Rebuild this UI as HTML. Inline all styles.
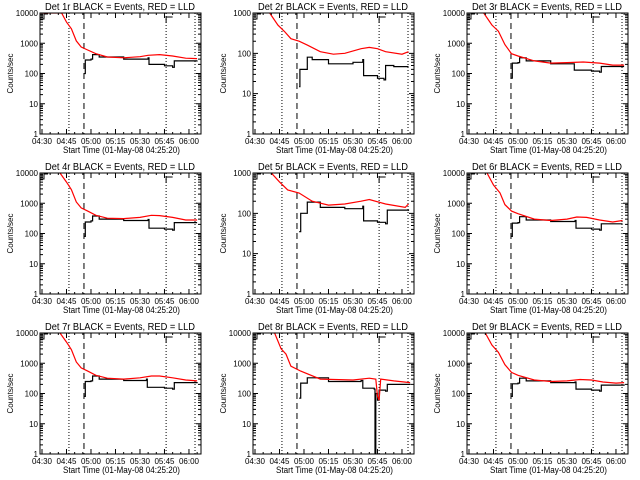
<!DOCTYPE html>
<html><head><meta charset="utf-8"><style>
html,body{margin:0;padding:0;background:#fff;width:640px;height:480px;overflow:hidden}
svg{display:block;font-family:"Liberation Sans",sans-serif}
</style></head><body>
<svg id="chart" width="640" height="480" viewBox="0 0 640 480"></svg>
<script>
// minutes after 04:30 ; values in counts/sec
const panelTitles = ["Det 1r","Det 2r","Det 3r","Det 4r","Det 5r","Det 6r","Det 7r","Det 8r","Det 9r"];
const panelDecades = [4,3,4,4,3,4,4,4,4];
const xTickLabels = ["04:30","04:45","05:00","05:15","05:30","05:45","06:00"];
const xTickMinutes = [0,15,30,45,60,75,90];
const markerMinutes = [16.5,25.7,76,93.7];
const red1 = [[-4,10000],[12,10000],[15,5000],[18,3000],[21,1200],[24,750],[28,600],[33,450],[40,350],[50,330],[60,360],[65,400],[72,420],[80,380],[88,320],[95,310]];
const blk1 = [[26,100],[26.5,280],[30,300],[31,420],[35,350],[50,300],[65,330],[65.5,200],[75,180],[80,160],[81,260],[95,270]];
const red2 = [[9,1000],[14,500],[18,350],[22,230],[27,200],[32,160],[40,110],[48,95],[55,100],[65,130],[70,140],[75,130],[80,110],[90,95],[94,110]];
const blk2 = [[27,15],[27.5,40],[31,40],[32,80],[35,70],[45,55],[60,60],[66,70],[66.5,28],[75,24],[79,22],[80,50],[85,47],[94,47]];
const red3 = [[9,10000],[14,4000],[18,2500],[22,900],[26,450],[30,380],[40,260],[50,220],[60,230],[70,240],[80,220],[88,190],[95,190]];
const blk3 = [[26,70],[26.5,220],[30,230],[31,330],[35,260],[50,210],[64,210],[64.5,130],[75,120],[80,110],[81,170],[95,170]];
const red4 = [[11,10000],[15,5000],[18,2800],[21,1100],[24,700],[28,550],[33,400],[40,320],[50,310],[60,340],[67,400],[72,390],[80,340],[88,280],[95,280]];
const blk4 = [[26,80],[26.5,240],[30,260],[31,380],[35,300],[50,270],[65,290],[65.5,150],[75,140],[80,130],[81,230],[95,230]];
const red5 = [[10,1000],[15,600],[20,380],[27,320],[35,200],[45,160],[55,170],[65,200],[70,220],[80,170],[92,140],[94,170]];
const blk5 = [[27,35],[28,100],[31,100],[32,190],[40,140],[55,130],[66,150],[66.5,65],[75,60],[80,55],[81,120],[94,115]];
const red6 = [[11,10000],[15,4000],[19,2200],[22,900],[26,550],[30,450],[40,300],[50,270],[60,300],[66,350],[72,340],[80,280],[88,240],[94,270]];
const blk6 = [[26,80],[26.5,220],[30,230],[31,360],[35,280],[50,250],[65,270],[65.5,150],[75,140],[80,130],[81,210],[94,210]];
const red7 = [[11,10000],[15,5000],[18,2800],[21,1100],[24,700],[28,550],[33,400],[40,320],[50,300],[60,330],[67,380],[72,380],[80,330],[88,280],[95,260]];
const blk7 = [[26,80],[26.5,250],[30,260],[31,380],[35,300],[50,270],[64,300],[64.5,160],[75,150],[80,140],[81,230],[95,240]];
const red8 = [[12,10000],[16,3000],[19,2000],[22,800],[28,550],[40,300],[60,280],[70,320],[74,300],[75,80],[76,60],[77,300],[85,260],[95,230]];
const blk8 = [[27,70],[28,220],[31,220],[32,330],[45,250],[65,270],[66,150],[73,140],[73.5,1],[74,100],[75,60],[76,130],[80,120],[81,200],[95,210]];
const red9 = [[10,10000],[14,4000],[18,2300],[22,900],[26,500],[30,400],[40,280],[50,250],[60,260],[68,290],[75,280],[82,240],[90,220],[95,230]];
const blk9 = [[26,80],[26.5,210],[30,220],[31,320],[35,260],[50,230],[65,240],[65.5,140],[75,130],[80,120],[81,190],[95,200]];
const redSeries = [red1,red2,red3,red4,red5,red6,red7,red8,red9];
const blackSeries = [blk1,blk2,blk3,blk4,blk5,blk6,blk7,blk8,blk9];

const NS="http://www.w3.org/2000/svg";
const svg=document.getElementById('chart');
function mk(tag,attrs,parent){const e=document.createElementNS(NS,tag);for(const k in attrs)e.setAttribute(k,attrs[k]);(parent||svg).appendChild(e);return e;}
const PL=40,PR=201,PT=13,PB=134;
for(let i=0;i<9;i++){
  const ox=[0,213,427][i%3], oy=[0,160,320][Math.floor(i/3)];
  const g=mk('g',{transform:`translate(${ox},${oy})`});
  
  
  const dec=panelDecades[i];
  const X=t=>PL+2+t*1.633;
  const Y=v=>PB-(Math.log10(Math.max(v,1))/dec)*(PB-PT);
  const cid='clip'+i;
  const cp=mk('clipPath',{id:cid},g);mk('rect',{x:PL,y:PT,width:PR-PL,height:PB-PT},cp);
  markerMinutes.forEach((m,j)=>{
    const l=mk('line',{x1:X(m),x2:X(m),y1:PT,y2:PB,stroke:'#000','stroke-width':1,'stroke-dasharray':j==1?'6,4':'1,2'},g);
    
    
  });
  const be=mk('path',{d:`M${PL} ${PT+6}H${PL+4}V${PT+1}H${PL+8}M${X(76)} ${PT+10}V${PT+4}H${X(80)}`,fill:'none',stroke:'#000','stroke-width':1},g);
  
  
  const lin=arr=>arr.map((p,k)=>(k?'L':'M')+X(p[0]).toFixed(1)+' '+Y(p[1]).toFixed(1)).join('');
  const step=arr=>arr.map((p,k)=>k?`H${X(p[0]).toFixed(1)}V${Y(p[1]).toFixed(1)}`:`M${X(p[0]).toFixed(1)} ${Y(p[1]).toFixed(1)}`).join('');
  const bl=mk('path',{d:step(blackSeries[i]),fill:'none',stroke:'#000','stroke-width':1.2,'clip-path':`url(#${cid})`},g);
  
  
  const rd=mk('path',{d:lin(redSeries[i]),fill:'none',stroke:'#f00','stroke-width':1.2,'clip-path':`url(#${cid})`},g);
  
  
  const fr=mk('rect',{x:PL,y:PT,width:PR-PL,height:PB-PT,fill:'none',stroke:'#000','stroke-width':1},g);
  
  
  let tp='';
  for(let d=0;d<=dec;d++){
    const y=Y(Math.pow(10,d));
    tp+=`M${PL} ${y}h5M${PR} ${y}h-5`;
    const t=mk('text',{x:PL-2,y:y+3,'text-anchor':'end','font-size':8},g);t.textContent=String(Math.pow(10,d));
    
    
    if(d<dec)for(let m=2;m<10;m++){const yy=Y(m*Math.pow(10,d));tp+=`M${PL} ${yy}h3M${PR} ${yy}h-3`;}
  }
  xTickMinutes.forEach((m,k)=>{
    const x=X(m);tp+=`M${x} ${PB}v-5M${x} ${PT}v5`;
    for(let s=1;s<3;s++){const xx=X(m+5*s);if(xx<PR)tp+=`M${xx} ${PB}v-2M${xx} ${PT}v2`;}
    const t=mk('text',{x:x,y:PB+10,'text-anchor':'middle','font-size':8},g);t.textContent=xTickLabels[k];
    
    
  });
  mk('path',{d:tp,stroke:'#000','stroke-width':1,fill:'none'},g);
  const tt=mk('text',{x:45,y:10,'font-size':10,textLength:150,lengthAdjust:'spacingAndGlyphs'},g);tt.textContent=panelTitles[i]+" BLACK = Events, RED = LLD";
  
  
  const xt=mk('text',{x:63,y:153,'font-size':9,textLength:117,lengthAdjust:'spacingAndGlyphs'},g);xt.textContent="Start Time (01-May-08 04:25:20)";
  
  
  const yt=mk('text',{x:0,y:0,'text-anchor':'middle','font-size':8,transform:`translate(13,${(PT+PB)/2}) rotate(-90)`},g);yt.textContent="Counts/sec";
  
  
}
</script>
</body></html>
